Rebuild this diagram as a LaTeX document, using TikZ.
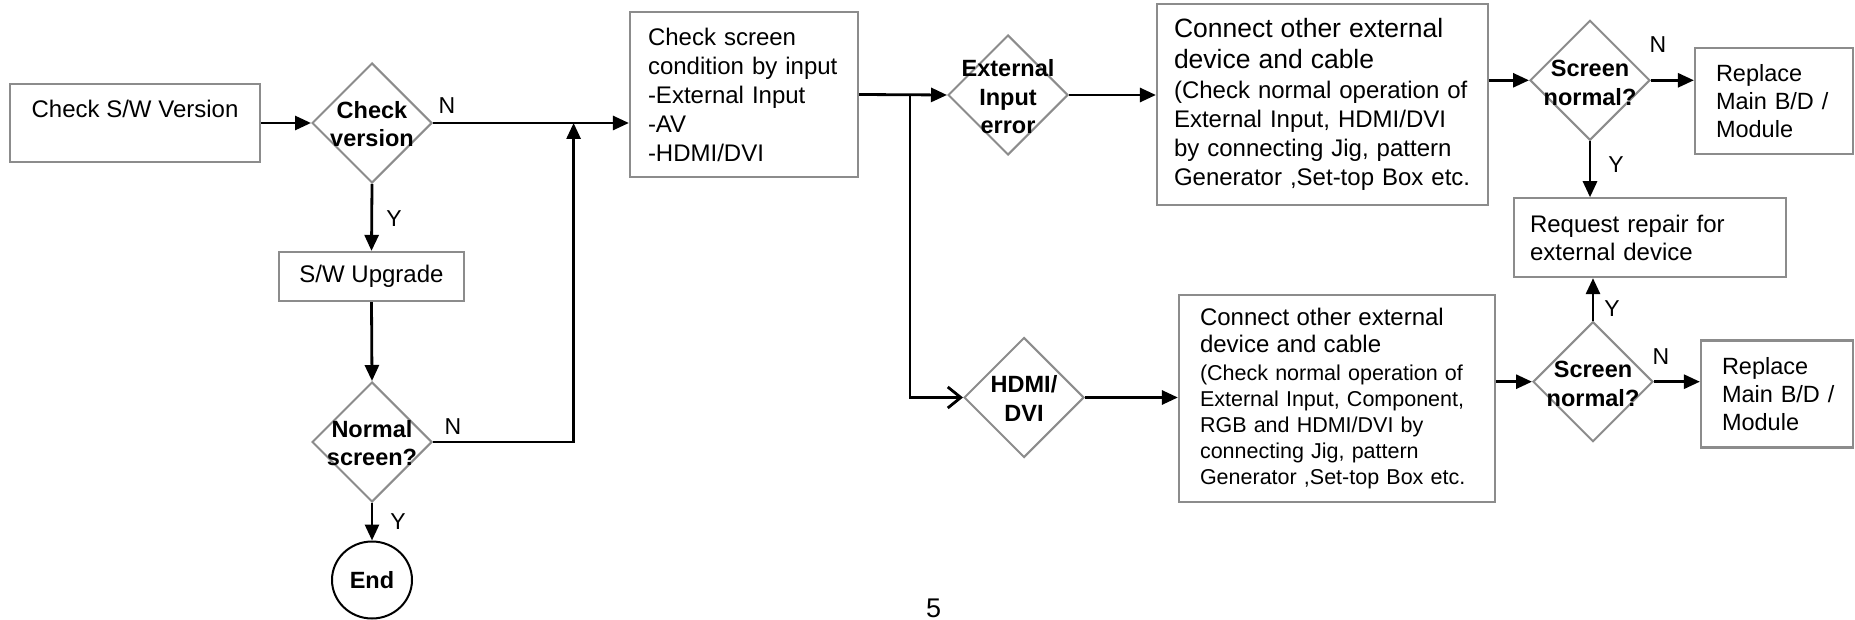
\documentclass[tikz,border=0pt]{standalone}
\usepackage{fontspec}
\setmainfont{Liberation Sans}
\usetikzlibrary{arrows.meta,shapes.geometric}
\definecolor{framegray}{RGB}{140,140,140}
\tikzset{
  box/.style={draw=framegray, line width=2.2pt, inner ysep=0pt, font=\fontsize{24}{29}\selectfont},
  lbox/.style={box, align=left},
  dia/.style={draw=framegray, line width=2pt, diamond, inner sep=0pt, minimum width=120pt, minimum height=120pt},
  dtext/.style={font=\bfseries\fontsize{23.5}{28.5}\selectfont, align=center, inner sep=0pt},
  flow/.style={line width=2.8pt, -{Triangle[length=16pt,width=14pt]}},
  openflow/.style={line width=2.8pt, -{Straight Barb[length=13pt,width=21pt]}},
  yn/.style={font=\fontsize{23}{27}\selectfont, inner sep=0pt},
}
\begin{document}
\begin{tikzpicture}[x=1pt,y=-1pt]
\useasboundingbox (0,0) rectangle (1855,620);

% process boxes
\node[box, align=center, minimum width=250pt, minimum height=78pt] (b1) at (135,123) {Check S/W Version\\\mbox{}};
\node[box, minimum width=185pt, minimum height=49pt] (b2) at (371.5,276.5) {S/W Upgrade};
\node[lbox, text width=192pt, inner xsep=18pt, minimum height=165pt] (b3) at (744,94.5)
  {Check screen\\condition by input\\-External Input\\-AV\\-HDMI/DVI};
\node[lbox, text width=297pt, inner xsep=17pt, minimum height=201pt] (c1) at (1322.5,104.5)
  {{\fontsize{26.5}{31}\selectfont Connect other external}\\[2.6pt]
   {\fontsize{26.5}{31}\selectfont device and cable}\\[1pt]
   (Check normal operation of\\External Input, HDMI/DVI\\by connecting Jig, pattern\\\mbox{Generator ,Set-top Box etc.}};
\node[lbox, font=\fontsize{21.5}{26}\selectfont, text width=274pt, inner xsep=21pt, minimum height=206.7pt] (c2) at (1337,398.3)
  {{\fontsize{24}{28}\selectfont Connect other external}\\[1.6pt]
   {\fontsize{24}{28}\selectfont device and cable}\\[1.4pt]
   (Check normal operation of\\External Input, Component,\\RGB and HDMI/DVI by\\connecting Jig, pattern\\\mbox{Generator ,Set-top Box etc.}};
\node[lbox, font=\fontsize{24}{28}\selectfont, text width=240pt, inner xsep=16pt, minimum height=78.7pt] (q) at (1650,237.7)
  {Request repair for\\external device};
\node[lbox, font=\fontsize{23.5}{28.3}\selectfont, text width=116pt, inner xsep=21pt, minimum height=106.6pt] (r1) at (1774,101)
  {Replace\\\mbox{Main B/D /}\\Module};
\node[lbox, font=\fontsize{23.5}{28.3}\selectfont, text width=110pt, inner xsep=21pt, minimum height=107pt] (r2) at (1777,394)
  {Replace\\\mbox{Main B/D /}\\Module};

% decisions
\node[dia] (d1) at (372,123) {};
\node[dtext] (t1) at (372,124) {Check\\version};
\node[dia] (d2) at (372,442) {};
\node[dtext] (t2) at (372,443) {Normal\\screen?};
\node[dia] (d3) at (1008,95) {};
\node[dtext] (t3) at (1008,97) {External\\Input\\error};
\node[dia] (d4) at (1024,397.5) {};
\node[dtext] (t4) at (1024,398.5) {HDMI/\\DVI};
\node[dia] (d5) at (1590,80.3) {};
\node[dtext] (t5) at (1590,83) {Screen\\normal?};
\node[dia] (d6) at (1593,381.7) {};
\node[dtext] (t6) at (1593,384) {Screen\\normal?};

% terminator
\node[draw, ellipse, line width=2pt, minimum width=80pt, minimum height=77pt, inner sep=0pt,
      font=\bfseries\fontsize{23.5}{28}\selectfont] (fin) at (372,580) {End};

% junction points
\coordinate (j1) at (573.6,123);
\coordinate (j2) at (910,95);

% connectors
\draw[flow] (b1.east) -- (d1.west);
\draw[flow] (d1.east) -- (d1.east -| b3.west);
\draw[flow] (d1.south) -- (b2.north);
\draw[flow] (b2.south) -- (d2.north);
\draw[flow] (d2.east) -| (j1);
\draw[flow] (d2.south) -- (fin.north);
\draw[flow] (b3.east) -- (d3.west);
\draw[openflow] (j2) |- (d4.west);
\draw[flow] (d3.east) -- (c1.west |- d3.east);
\draw[flow] (d5.west -| c1.east) -- (d5.west);
\draw[flow] (d5.east) -- (d5.east -| r1.west);
\draw[flow] (d5.south) -- (d5.south |- q.north);
\draw[flow] (d4.east) -- (d4.east -| c2.west);
\draw[flow] (d6.west -| c2.east) -- (d6.west);
\draw[flow] (d6.east) -- (d6.east -| r2.west);
\draw[flow] (d6.north) -- (d6.north |- q.south);

% branch labels
\node[yn] (n1) at (447,106) {N};
\node[yn] (y1) at (394,219) {Y};
\node[yn] (n2) at (453,427) {N};
\node[yn] (y2) at (398,522) {Y};
\node[yn] (n3) at (1658,45) {N};
\node[yn] (y3) at (1616,165) {Y};
\node[yn] (y4) at (1612,309) {Y};
\node[yn] (n4) at (1661,357) {N};

% page number
\node[font=\fontsize{27}{30}\selectfont, inner sep=0pt] (pg) at (933.5,608) {5};
\end{tikzpicture}
\end{document}
